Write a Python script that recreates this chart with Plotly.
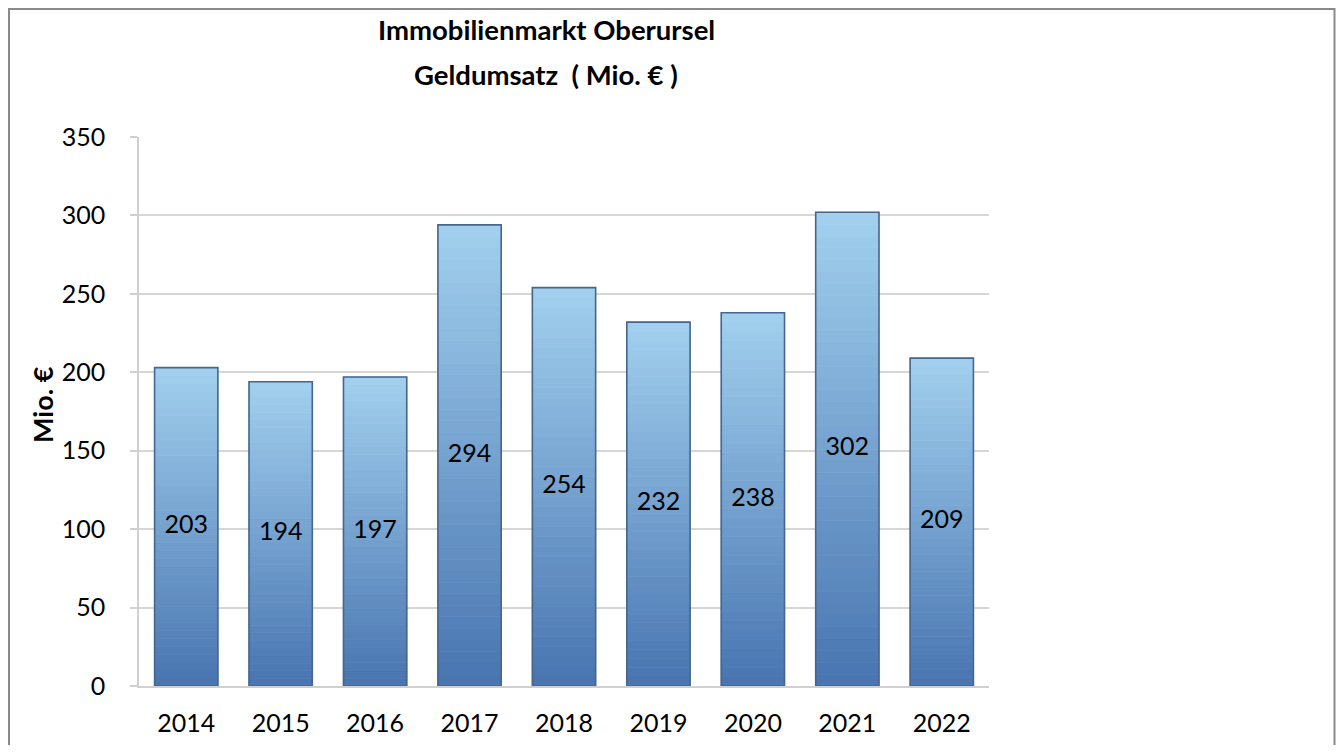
import plotly.graph_objects as go

years = ["2014", "2015", "2016", "2017", "2018", "2019", "2020", "2021", "2022"]
values = [203, 194, 197, 294, 254, 232, 238, 302, 209]
title_lines = ["Immobilienmarkt Oberursel", "Geldumsatz  ( Mio. € )"]
y_title = "Mio. €"

FONT = "Lato"
TOP = (162, 208, 238)
BOTTOM = (72, 116, 176)
N = 40
BW = 0.67

W, H = 1328, 737
L, T, PW, PH = 131, 129, 850, 549

fig = go.Figure()

# gradient fill built from stacked slices of each bar
for k in range(N):
    t = (k + 0.5) / N
    c = "rgb(%d,%d,%d)" % tuple(round(BOTTOM[i] + (TOP[i] - BOTTOM[i]) * t) for i in range(3))
    fig.add_trace(go.Bar(
        x=years,
        y=[v / N for v in values],
        base=[v * k / N for v in values],
        width=BW,
        marker=dict(color=c, line=dict(width=0.8, color=c)),
        hoverinfo="skip",
        showlegend=False,
    ))

# outline
fig.add_trace(go.Bar(
    x=years, y=values, width=BW,
    marker=dict(color="rgba(0,0,0,0)", line=dict(color="#46668c", width=1.6)),
    showlegend=False,
))

# value labels
fig.add_trace(go.Scatter(
    x=years, y=[v / 2 for v in values], mode="text",
    text=[str(v) for v in values],
    textfont=dict(family=FONT, size=25, color="#000000"),
    showlegend=False, hoverinfo="skip",
))


def px_x(fx):
    return (fx - L) / PW


def px_y(fy):
    return (T + PH - fy) / PH


fig.update_layout(
    width=W, height=H,
    margin=dict(l=L, r=W - L - PW, t=T, b=H - T - PH),
    paper_bgcolor="white", plot_bgcolor="white",
    barmode="overlay",
    showlegend=False,
    font=dict(family=FONT, color="#000000"),
    xaxis=dict(
        automargin=False,
        showgrid=False, showline=True, linecolor="#d0d0d0", linewidth=1.5,
        ticks="", tickfont=dict(size=25, family=FONT),
        ticklabelstandoff=14,
    ),
    yaxis=dict(
        automargin=False,
        range=[0, 350], tickvals=[0, 50, 100, 150, 200, 250, 300, 350],
        showgrid=True, gridcolor="#d6d6d6", gridwidth=1.5,
        showline=True, linecolor="#d0d0d0", linewidth=1.5,
        ticks="outside", ticklen=7, tickcolor="#d0d0d0", tickwidth=1.5,
        tickfont=dict(size=25, family=FONT), ticklabelstandoff=20,
        zeroline=False,
    ),
    annotations=[
        dict(text=f"<b>{title_lines[0]}</b>", xref="paper", yref="paper",
             x=0.479, y=px_y(22), showarrow=False, xanchor="center", yanchor="middle",
             font=dict(size=27.5, family=FONT)),
        dict(text=f"<b>{title_lines[1]}</b>", xref="paper", yref="paper",
             x=0.479, y=px_y(66), showarrow=False, xanchor="center", yanchor="middle",
             font=dict(size=27.5, family=FONT)),
        dict(text=f"<b>{y_title}</b>", xref="paper", yref="paper",
             x=px_x(34), y=px_y(397), showarrow=False,
             xanchor="center", yanchor="middle", textangle=-90,
             font=dict(size=27, family=FONT)),
    ],
    shapes=[
        dict(type="rect", xref="paper", yref="paper",
             x0=px_x(1), x1=px_x(W - 1.5),
             y0=px_y(H + 20), y1=px_y(1),
             line=dict(color="#8a8a8a", width=2), fillcolor="rgba(0,0,0,0)",
             layer="below"),
    ],
)

fig.write_html("out.html")
